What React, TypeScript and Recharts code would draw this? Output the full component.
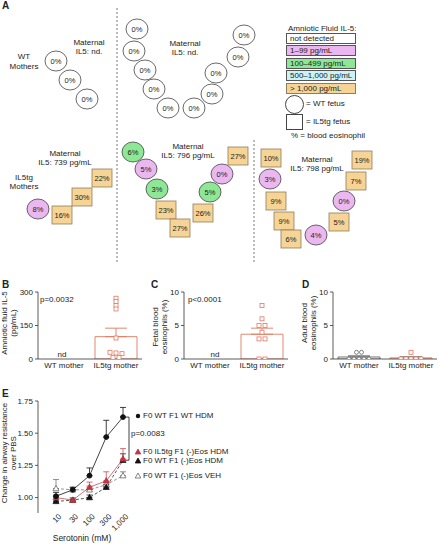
import {
  ScatterChart,
  Scatter,
  XAxis,
  YAxis,
  ReferenceLine,
  ComposedChart,
  Bar,
  Cell,
  ErrorBar,
  LineChart,
  Line,
} from "recharts";

const FONT = "Arial, 'Liberation Sans', Helvetica, sans-serif";
const INK = "#333333";
const SALMON = "#DE7A62";
const GRAY = "#666666";
const RED = "#C2343F";

// ---------- panel A: litters ----------
const il5Levels = ["not detected", "1–99 pg/mL", "100–499 pg/mL", "500–1,000 pg/mL", "> 1,000 pg/mL"];
const il5Colors = ["#ffffff", "#EBB7F1", "#8EE795", "#CBF3F7", "#F5D496"];

const fetusGenotype = [
  "WT", "WT", "WT",
  "WT", "WT", "WT", "WT", "WT", "WT", "WT", "WT", "WT", "WT",
  "WT", "tg", "tg", "tg",
  "WT", "WT", "WT", "tg", "tg", "tg", "WT", "WT", "tg",
  "tg", "WT", "tg", "tg", "tg", "WT", "tg", "WT", "tg", "tg",
];
const fetusEos = [
  0, 0, 0,
  0, 0, 0, 0, 0, 0, 0, 0, 0, 0,
  8, 16, 30, 22,
  6, 5, 3, 23, 27, 26, 5, 0, 27,
  10, 3, 9, 9, 6, 4, 5, 0, 7, 19,
];
const fetusLevel = [
  0, 0, 0,
  0, 0, 0, 0, 0, 0, 0, 0, 0, 0,
  1, 4, 4, 4,
  2, 1, 2, 4, 4, 4, 2, 1, 4,
  4, 1, 4, 4, 4, 1, 4, 1, 4, 4,
];
// diagram layout (scatter units)
const fetusX = [
  56, 70, 87,
  137, 134, 145, 154, 168, 194, 212, 216, 238, 244,
  38, 62, 82, 102,
  133, 146, 157, 166, 180, 203, 210, 222, 238,
  271, 270, 276, 284, 291, 316, 339, 344, 356, 362,
];
const fetusY = [
  61, 80, 99,
  29, 51, 70, 89, 108, 108, 94, 73, 57, 35,
  209, 215, 197, 178,
  152, 169, 189, 210, 228, 213, 192, 174, 156,
  158, 179, 201, 221, 239, 235, 222, 201, 181, 160,
];

// ---------- panels B-D ----------
const groups = ["WT mother", "IL5tg mother"];
const amnioticMean = [null, 100];
const amnioticSem = [null, 38];
const amnioticTg = [272, 257, 239, 224, 94, 30, 27, 24, 7, 7];
const fetalMean = [null, 3.7];
const fetalSem = [null, 0.9];
const fetalTg = [8, 6, 5, 5, 4, 3, 3, 0, 0];
const adultMean = [0.3, 0.17];
const adultSem = [0.18, 0.17];
const adultWT = [1, 1, 0, 0, 0, 0, 0];
const adultTg = [1, 0, 0, 0, 0, 0];

// ---------- panel E ----------
const doses = ["10", "30", "100", "300", "1,000"];
const wtHdm = [1.01, 1.06, 1.17, 1.47, 1.625];
const wtHdmErr = [0.03, 0.02, 0.06, 0.13, 0.075];
const tgEosHdm = [1.0, 0.98, 1.08, 1.13, 1.3];
const tgEosHdmErr = [0.02, 0.02, 0.04, 0.07, 0.08];
const wtEosHdm = [0.97, 0.98, 1.0, 1.08, 1.29];
const wtEosHdmErr = [0.01, 0.01, 0.02, 0.02, 0.05];
const wtEosVeh = [1.07, 1.06, 1.06, 1.1, 1.17];
const wtEosVehErr = [0.07, 0.02, 0.03, 0.02, 0.03];

function spread(values: number[], tol: number, step: number) {
  const order = values.map((v, i) => ({ v, i })).sort((a, b) => b.v - a.v);
  const dx = new Array(values.length).fill(0);
  let start = 0;
  for (let k = 1; k <= order.length; k++) {
    if (k === order.length || order[k - 1].v - order[k].v > tol) {
      const n = k - start;
      for (let j = 0; j < n; j++) dx[order[start + j].i] = (j - (n - 1) / 2) * step;
      start = k;
    }
  }
  return dx;
}

const barRows = (mean: (number | null)[], sem: (number | null)[]) =>
  groups.map((g, i) => ({ group: g, mean: mean[i], err: sem[i] == null ? null : [0, sem[i]] }));

const pointRows = (group: string, vals: number[], tol: number, step: number) => {
  const dx = spread(vals, tol, step);
  return vals.map((v, i) => ({ group, value: v, dx: dx[i] }));
};

function Txt({ x, y, children, size = 8, anchor = "middle", bold = false }: any) {
  return (
    <div
      style={{
        position: "absolute",
        left: x,
        top: y,
        transform: `translate(${anchor === "middle" ? "-50%" : "0"}, -50%)`,
        whiteSpace: "nowrap",
        fontSize: size,
        fontWeight: bold ? "bold" : "normal",
        lineHeight: 1.15,
        color: "#222",
      }}
    >
      {children}
    </div>
  );
}

function VLabel({ x, y, lines }: any) {
  return (
    <div
      style={{
        position: "absolute",
        left: x,
        top: y,
        transform: "translate(-50%, -50%) rotate(-90deg)",
        whiteSpace: "nowrap",
        textAlign: "center",
        fontSize: 8,
        lineHeight: "9px",
        color: "#222",
      }}
    >
      {lines.map((l: string) => (
        <div key={l}>{l}</div>
      ))}
    </div>
  );
}

const FetusShape = (p: any) => {
  const { cx, cy, payload } = p;
  const fill = il5Colors[payload.level];
  const stroke = payload.level === 4 ? "#8f7d5e" : "#444";
  return (
    <g>
      {payload.genotype === "WT" ? (
        <ellipse cx={cx} cy={cy} rx={11} ry={10} fill={fill} stroke={stroke} strokeWidth={0.8} />
      ) : (
        <rect x={cx - 10} y={cy - 9} width={20} height={18} fill={fill} stroke={stroke} strokeWidth={0.8} />
      )}
      <text x={cx} y={cy + 3} textAnchor="middle" fontSize={7.5} fill="#222" fontFamily={FONT}>
        {payload.eos}%
      </text>
    </g>
  );
};

function PanelA() {
  const fetuses = fetusX.map((x, i) => ({
    x,
    y: fetusY[i],
    genotype: fetusGenotype[i],
    eos: fetusEos[i],
    level: fetusLevel[i],
  }));
  return (
    <div style={{ position: "absolute", left: 0, top: 0 }}>
      <ScatterChart width={439} height={270} margin={{ top: 0, right: 0, left: 0, bottom: 0 }}>
        <XAxis type="number" dataKey="x" domain={[0, 439]} hide allowDataOverflow />
        <YAxis type="number" dataKey="y" domain={[0, 270]} reversed hide allowDataOverflow />
        <ReferenceLine segment={[{ x: 117, y: 8 }, { x: 117, y: 262 }]} stroke="#555" strokeDasharray="2 2" strokeWidth={0.8} />
        <ReferenceLine segment={[{ x: 254, y: 140 }, { x: 254, y: 262 }]} stroke="#555" strokeDasharray="2 2" strokeWidth={0.8} />
        <Scatter data={fetuses} shape={FetusShape} isAnimationActive={false} />
      </ScatterChart>
    </div>
  );
}

function PanelALabels() {
  const boxTops = [33, 45, 58, 70, 83];
  return (
    <>
      <Txt x={24} y={57}>WT</Txt>
      <Txt x={24} y={67}>Mothers</Txt>
      <Txt x={89} y={43}>Maternal</Txt>
      <Txt x={89} y={52}>IL5: nd.</Txt>
      <Txt x={185} y={44}>Maternal</Txt>
      <Txt x={185} y={53}>IL5: nd.</Txt>
      <Txt x={65} y={154}>Maternal</Txt>
      <Txt x={65} y={163}>IL5: 739 pg/mL</Txt>
      <Txt x={24} y={178}>IL5tg</Txt>
      <Txt x={24} y={187}>Mothers</Txt>
      <Txt x={188} y={147}>Maternal</Txt>
      <Txt x={188} y={156}>IL5: 796 pg/mL</Txt>
      <Txt x={317} y={160}>Maternal</Txt>
      <Txt x={317} y={169}>IL5: 798 pg/mL</Txt>

      <Txt x={288} y={29} anchor="start">Amniotic Fluid IL-5:</Txt>
      {il5Levels.map((l, i) => (
        <div
          key={l}
          style={{
            position: "absolute",
            left: 286,
            top: boxTops[i],
            width: 70,
            height: 11,
            boxSizing: "border-box",
            border: `1px solid ${i === 4 ? "#8f7d5e" : "#555"}`,
            background: il5Colors[i],
            fontSize: 8,
            lineHeight: "9px",
            paddingLeft: 3,
            color: "#222",
            whiteSpace: "nowrap",
          }}
        >
          {l}
        </div>
      ))}
      <div
        style={{
          position: "absolute",
          left: 285,
          top: 95,
          width: 19,
          height: 19,
          boxSizing: "border-box",
          border: "1px solid #444",
          borderRadius: "50%",
        }}
      />
      <Txt x={306} y={104} anchor="start">= WT fetus</Txt>
      <div
        style={{
          position: "absolute",
          left: 286,
          top: 114,
          width: 17,
          height: 16,
          boxSizing: "border-box",
          border: "1px solid #444",
        }}
      />
      <Txt x={306} y={122} anchor="start">= IL5tg fetus</Txt>
      <Txt x={291} y={136} anchor="start">% = blood eosinophil</Txt>
    </>
  );
}

const pointShape = (p: any) => {
  const x = p.cx + (p.payload.dx || 0);
  const y = p.cy;
  if (p.payload.group === groups[0]) {
    return <circle cx={x} cy={y} r={2} fill="#fff" stroke={GRAY} strokeWidth={0.8} />;
  }
  return <rect x={x - 2} y={y - 2} width={4} height={4} fill="#fff" stroke={SALMON} strokeWidth={0.8} />;
};

function GroupPanel({ left, width, mLeft, mRight, yMax, yTicks, rows, points, strokes, errStroke }: any) {
  return (
    <div style={{ position: "absolute", left, top: 280 }}>
      <ComposedChart
        width={width}
        height={100}
        data={rows}
        margin={{ top: 12, right: mRight, left: mLeft, bottom: 5 }}
        barCategoryGap="10%"
      >
        <XAxis
          dataKey="group"
          allowDuplicatedCategory={false}
          height={16}
          tickLine={false}
          tickSize={2}
          tickMargin={1}
          axisLine={{ stroke: INK, strokeWidth: 0.8 }}
          tick={{ fontSize: 8, fill: "#222", fontFamily: FONT }}
          interval={0}
        />
        <YAxis
          type="number"
          domain={[0, yMax]}
          ticks={yTicks}
          allowDataOverflow
          width={22}
          tickSize={3}
          tickMargin={2}
          axisLine={{ stroke: INK, strokeWidth: 0.8 }}
          tickLine={{ stroke: INK, strokeWidth: 0.8 }}
          tick={{ fontSize: 8, fill: "#222", fontFamily: FONT }}
        />
        <Bar dataKey="mean" fill="#fff" barSize={42} isAnimationActive={false}>
          {rows.map((r: any, i: number) => (
            <Cell key={r.group} stroke={strokes[i]} strokeWidth={0.9} />
          ))}
          <ErrorBar dataKey="err" width={11} stroke={errStroke} strokeWidth={0.9} direction="y" />
        </Bar>
        <Scatter data={points} dataKey="value" shape={pointShape} isAnimationActive={false} />
      </ComposedChart>
    </div>
  );
}

const circleDot = (color: string) => (p: any) =>
  p.cx == null ? null : <circle key={`c${p.index}`} cx={p.cx} cy={p.cy} r={2.4} fill={color} stroke={color} />;

const triDot = (fill: string, stroke: string) => (p: any) =>
  p.cx == null ? null : (
    <polygon
      key={`t${p.index}`}
      points={`${p.cx},${p.cy - 3.2} ${p.cx - 3},${p.cy + 2.2} ${p.cx + 3},${p.cy + 2.2}`}
      fill={fill}
      stroke={stroke}
      strokeWidth={0.8}
    />
  );

const RotTick = (p: any) => {
  const x = p.x + 4;
  const y = p.y;
  return (
    <text
      x={x}
      y={y}
      dy="0.35em"
      transform={`rotate(-45 ${x} ${y})`}
      textAnchor="end"
      fontSize={8}
      fill="#222"
      fontFamily={FONT}
    >
      {p.payload.value}
    </text>
  );
};

function PanelE() {
  const data = doses.map((d, i) => ({
    dose: d,
    wtHdm: wtHdm[i],
    wtHdmErr: [0, wtHdmErr[i]],
    tgEosHdm: tgEosHdm[i],
    tgEosHdmErr: [0, tgEosHdmErr[i]],
    wtEosHdm: wtEosHdm[i],
    wtEosHdmErr: [0, wtEosHdmErr[i]],
    wtEosVeh: wtEosVeh[i],
    wtEosVehErr: [0, wtEosVehErr[i]],
  }));
  return (
    <div style={{ position: "absolute", left: 0, top: 390 }}>
      <LineChart width={150} height={154} data={data} margin={{ top: 11, right: 20, left: 16, bottom: 0 }}>
        <XAxis
          dataKey="dose"
          height={31}
          padding={{ left: 18, right: 7 }}
          axisLine={false}
          tickLine={false}
          tickSize={2}
          tickMargin={0}
          tick={RotTick}
          interval={0}
        />
        <YAxis
          type="number"
          domain={[0.88, 1.75]}
          ticks={[1, 1.25, 1.5, 1.75]}
          tickFormatter={(v: number) => v.toFixed(2)}
          allowDataOverflow
          width={22}
          tickSize={3}
          tickMargin={2}
          axisLine={{ stroke: INK, strokeWidth: 0.8 }}
          tickLine={{ stroke: INK, strokeWidth: 0.8 }}
          tick={{ fontSize: 8, fill: "#222", fontFamily: FONT }}
        />
        <Line
          dataKey="wtEosVeh"
          stroke={GRAY}
          strokeWidth={0.7}
          strokeDasharray="3 2"
          dot={triDot("#fff", GRAY)}
          isAnimationActive={false}
        >
          <ErrorBar dataKey="wtEosVehErr" width={3} stroke={GRAY} strokeWidth={0.7} />
        </Line>
        <Line
          dataKey="wtEosHdm"
          stroke="#111"
          strokeWidth={0.7}
          strokeDasharray="3 2"
          dot={triDot("#111", "#111")}
          isAnimationActive={false}
        >
          <ErrorBar dataKey="wtEosHdmErr" width={3} stroke="#111" strokeWidth={0.7} />
        </Line>
        <Line dataKey="tgEosHdm" stroke={RED} strokeWidth={0.7} dot={triDot(RED, RED)} isAnimationActive={false}>
          <ErrorBar dataKey="tgEosHdmErr" width={3} stroke={RED} strokeWidth={0.7} />
        </Line>
        <Line dataKey="wtHdm" stroke="#111" strokeWidth={0.8} dot={circleDot("#111")} isAnimationActive={false}>
          <ErrorBar dataKey="wtHdmErr" width={3} stroke="#111" strokeWidth={0.8} />
        </Line>
      </LineChart>
    </div>
  );
}

function EAnnotations() {
  // y position of a value on panel E's axis (1.75 at 401, 0.88 at 513)
  const yOf = (v: number) => 401 + ((1.75 - v) / (1.75 - 0.88)) * 112;
  const yTop = yOf(wtHdm[4]);
  const yBot = yOf(wtEosHdm[4]);
  const legend = [
    { label: "F0 WT F1 WT HDM", y: 416, kind: "circle" },
    { label: "F0 IL5tg F1 (-)Eos HDM", y: 452, kind: "red" },
    { label: "F0 WT F1 (-)Eos HDM", y: 461, kind: "black" },
    { label: "F0 WT F1 (-)Eos VEH", y: 476, kind: "open" },
  ];
  return (
    <>
      <svg style={{ position: "absolute", left: 0, top: 0 }} width={439} height={544}>
        <line x1={129} y1={yTop} x2={129} y2={yBot} stroke="#111" strokeWidth={0.8} />
        <line x1={126} y1={yTop} x2={129} y2={yTop} stroke="#111" strokeWidth={0.8} />
        <line x1={126} y1={yBot} x2={129} y2={yBot} stroke="#111" strokeWidth={0.8} />
        {legend.map((l) =>
          l.kind === "circle" ? (
            <circle key={l.label} cx={138} cy={l.y} r={2.2} fill="#111" />
          ) : (
            <polygon
              key={l.label}
              points={`138,${l.y - 3} 135.2,${l.y + 2} 140.8,${l.y + 2}`}
              fill={l.kind === "red" ? RED : l.kind === "black" ? "#111" : "#fff"}
              stroke={l.kind === "red" ? RED : l.kind === "black" ? "#111" : GRAY}
              strokeWidth={0.8}
            />
          )
        )}
      </svg>
      <Txt x={131} y={434} anchor="start">p=0.0083</Txt>
      {legend.map((l) => (
        <Txt key={l.label} x={143} y={l.y} anchor="start">
          {l.label}
        </Txt>
      ))}
    </>
  );
}

function App() {
  const rowsB = barRows(amnioticMean, amnioticSem);
  const rowsC = barRows(fetalMean, fetalSem);
  const rowsD = barRows(adultMean, adultSem);
  const ptsB = pointRows(groups[1], amnioticTg, 8, 6);
  const ptsC = pointRows(groups[1], fetalTg, 0.3, 6);
  const ptsD = [...pointRows(groups[0], adultWT, 0.3, 5), ...pointRows(groups[1], adultTg, 0.3, 5)];

  return (
    <div
      style={{
        position: "absolute",
        left: 0,
        top: 0,
        width: 439,
        height: 544,
        background: "#fff",
        fontFamily: FONT,
        overflow: "hidden",
      }}
    >
      <PanelA />
      <PanelALabels />

      <GroupPanel
        left={0}
        width={150}
        mLeft={16}
        mRight={8}
        yMax={300}
        yTicks={[0, 150, 300]}
        rows={rowsB}
        points={ptsB}
        strokes={[GRAY, SALMON]}
        errStroke={SALMON}
      />
      <GroupPanel
        left={150}
        width={145}
        mLeft={12}
        mRight={7}
        yMax={10}
        yTicks={[0, 5, 10]}
        rows={rowsC}
        points={ptsC}
        strokes={[GRAY, SALMON]}
        errStroke={SALMON}
      />
      <GroupPanel
        left={295}
        width={144}
        mLeft={16}
        mRight={2}
        yMax={10}
        yTicks={[0, 5, 10]}
        rows={rowsD}
        points={ptsD}
        strokes={[GRAY, SALMON]}
        errStroke={GRAY}
      />
      <PanelE />
      <EAnnotations />

      <VLabel x={9} y={323} lines={["Amniotic fluid IL-5", "(pg/mL)"]} />
      <VLabel x={160} y={327} lines={["Fetal blood", "eosinophils (%)"]} />
      <VLabel x={309} y={323} lines={["Adult blood", "eosinophils (%)"]} />
      <VLabel x={9} y={453} lines={["Change in airway resistance", "over PBS"]} />

      <Txt x={40} y={300} anchor="start">p=0.0032</Txt>
      <Txt x={188} y={300} anchor="start">p&lt;0.0001</Txt>
      <Txt x={62} y={355}>nd</Txt>
      <Txt x={215} y={355}>nd</Txt>
      <Txt x={82} y={539} size={8.5}>Serotonin (mM)</Txt>

      <Txt x={2} y={6} anchor="start" size={10} bold>A</Txt>
      <Txt x={2} y={285} anchor="start" size={10} bold>B</Txt>
      <Txt x={151} y={285} anchor="start" size={10} bold>C</Txt>
      <Txt x={302} y={285} anchor="start" size={10} bold>D</Txt>
      <Txt x={2} y={394} anchor="start" size={10} bold>E</Txt>
    </div>
  );
}

export default App;
